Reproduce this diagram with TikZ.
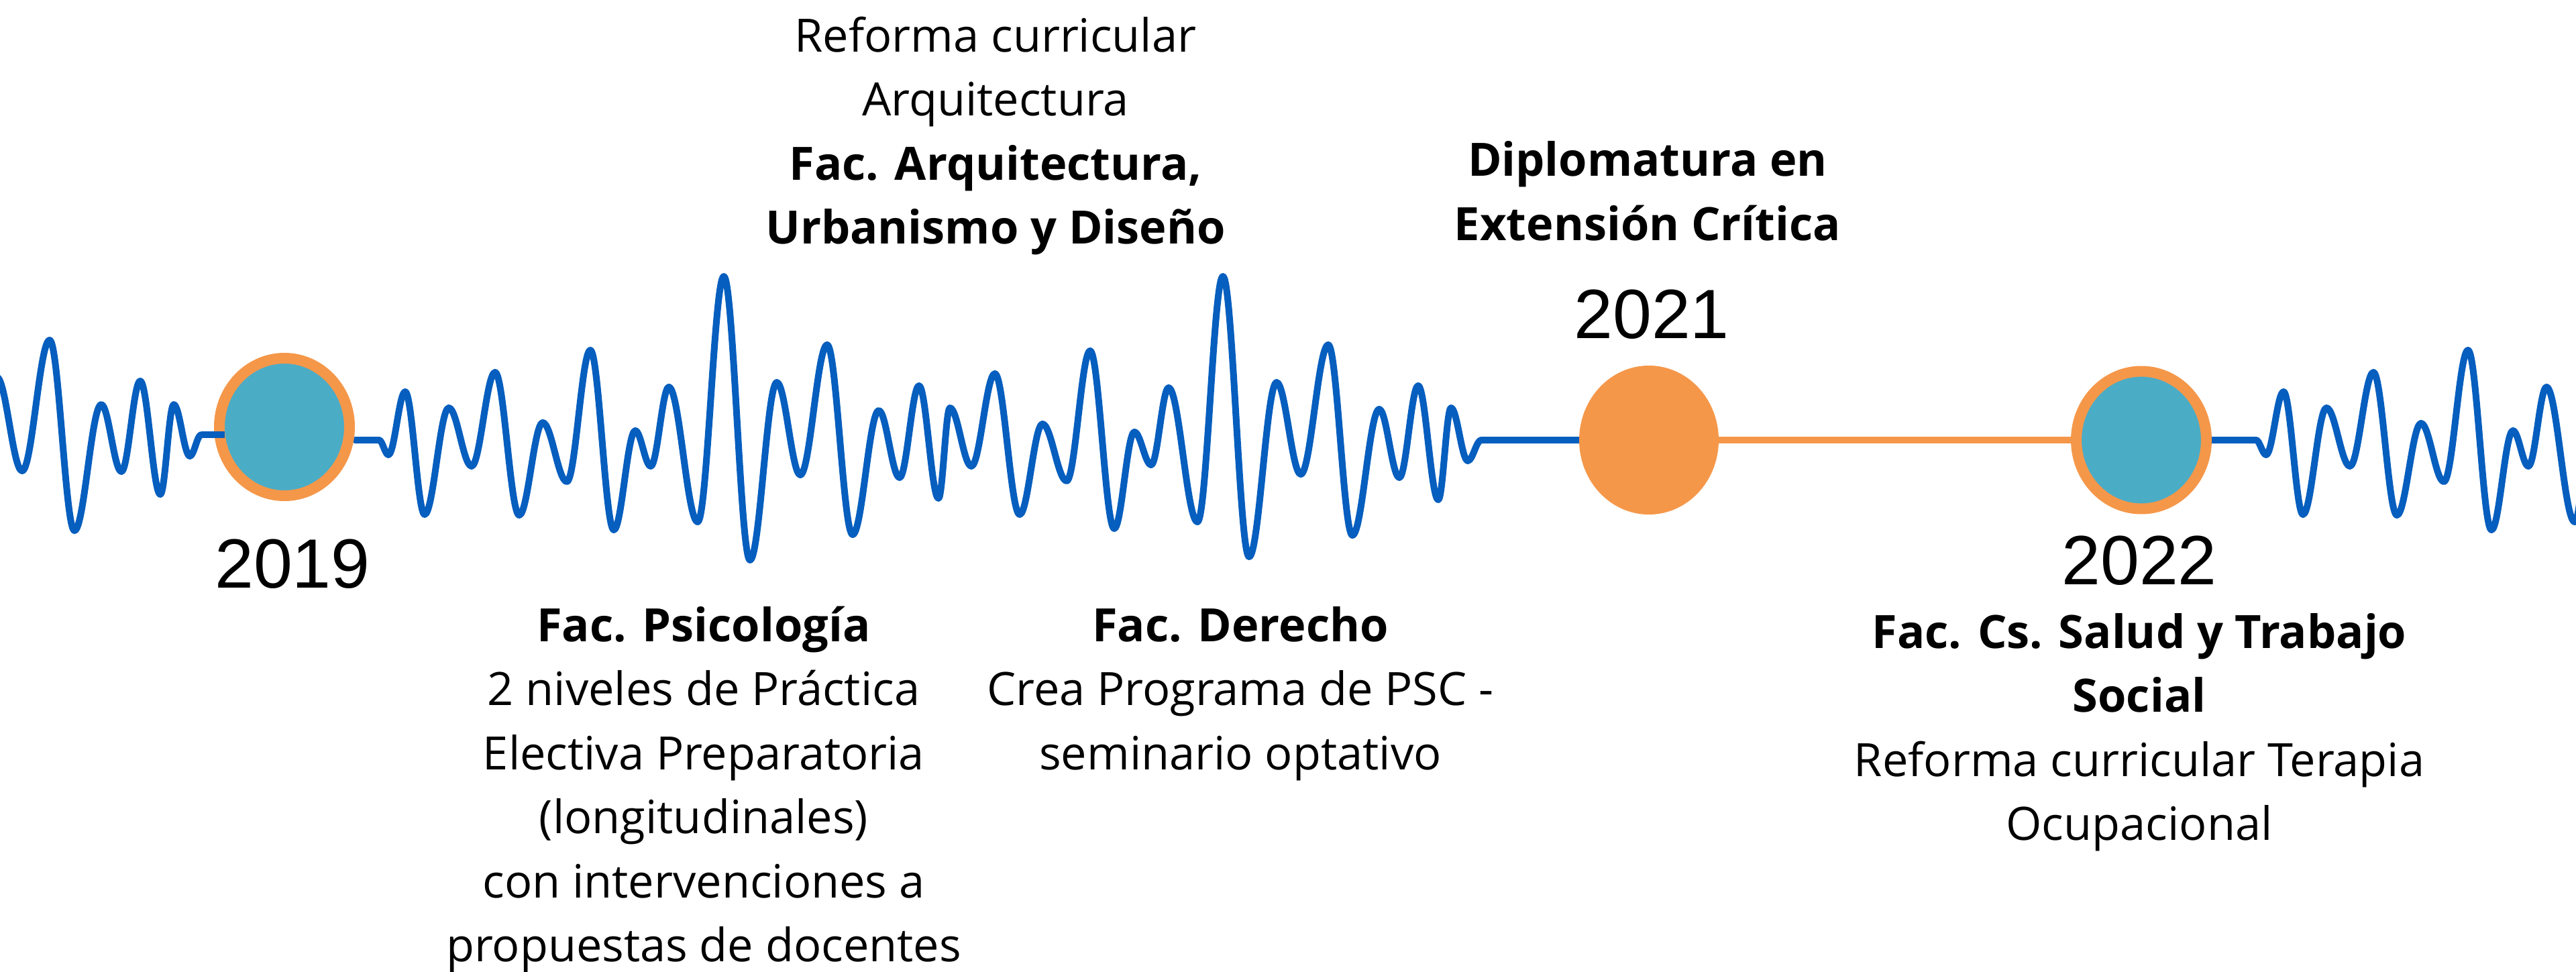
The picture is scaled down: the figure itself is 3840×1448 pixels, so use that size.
\documentclass[tikz,border=0pt]{standalone}
\usepackage{fontspec}
\setmainfont{Open Sans}
\newfontfamily\yearfont{Liberation Sans}
\usetikzlibrary{shapes.geometric}
\definecolor{waveblue}{RGB}{6,94,190}
\definecolor{ringorange}{RGB}{245,151,73}
\definecolor{dotteal}{RGB}{75,172,198}
\pgfdeclarelayer{bg}
\pgfsetlayers{bg,main}
\begin{document}
\begin{tikzpicture}[x=1pt,y=-1pt,
  wave/.style={draw=waveblue,line width=10pt,line cap=round,line join=round},
  stub/.style={draw=waveblue,line width=10pt},
  link/.style={draw=ringorange,line width=10pt},
  ringdot/.style={ellipse,inner sep=0pt,fill=dotteal,draw=ringorange,line width=16pt,minimum width=194pt,minimum height=205pt},
  fulldot/.style={ellipse,inner sep=0pt,fill=ringorange,minimum width=208pt,minimum height=222pt},
  body/.style={font=\fontsize{68.5}{95.5}\selectfont,align=center,inner sep=0pt,anchor=base},
  year/.style={font=\yearfont\fontsize{104}{104}\selectfont,inner sep=0pt,anchor=base},
]
\useasboundingbox (0,0) rectangle (3840,1448);

% event dots
\node[ringdot] (c2019) at (424,636.5) {};
\node[fulldot] (c2021) at (2458,656) {};
\node[ringdot] (c2022) at (3192,656) {};

% free ends of the flat parts of the wave
\coordinate (a1) at (300,648);
\coordinate (b0) at (565,656);
\coordinate (b1) at (2208,656);
\coordinate (d0) at (3363,656);

\begin{pgfonlayer}{bg}
% left wave
\draw[wave] (-5,562)
  \foreach \x/\y [remember=\x as \px (initially -5)] in
  {33/702,74/507,111/791,151/603,181/703,209/568,239/737,259/603,283/680,300/648}
  { .. controls +({0.364*(\x-\px)},0) and +({-0.364*(\x-\px)},0) .. (\x,\y) };
% middle wave
\draw[wave] (c2019.east |- b0) -- (b0)
  \foreach \x/\y [remember=\x as \px (initially 565)] in
  {579/678,604/584,633/767,669/608,703/695,738/555,774/768,809/630,845/718,
   880/522,915/790,947/642,970/695,997/577,1040/778,1079/412,1118/835,1158/570,
   1193/708,1233/514,1271/797,1310/612,1341/712,1370/575,1399/743,1416/608,
   1448/695,1483/557,1520/767,1554/632,1590/717,1625/523,1661/788,1691/644,
   1716/693,1742/578,1785/778,1823/412,1862/830,1903/570,1939/707,1980/514,
   2016/798,2056/610,2086/712,2114/575,2144/745,2163/608,2188/687,2208/656}
  { .. controls +({0.364*(\x-\px)},0) and +({-0.364*(\x-\px)},0) .. (\x,\y) }
  -- (c2021.west |- b1);
% right wave
\draw[wave] (c2022.east |- d0) -- (d0)
  \foreach \x/\y [remember=\x as \px (initially 3363)] in
  {3378/678,3404/584,3433/767,3468/608,3503/695,3538/555,3573/768,3609/631,
   3643/718,3679/522,3714/790,3746/642,3769/695,3796/577,3838/778,3878/412}
  { .. controls +({0.364*(\x-\px)},0) and +({-0.364*(\x-\px)},0) .. (\x,\y) };
% orange link
\draw[link] (c2021) -- (c2022);
\end{pgfonlayer}

% blue stub over the left side of the first ring
\draw[stub] (a1) -- ([xshift=16pt]c2019.west |- a1);

% years
\node[year] (y2019) at (436,876) {2019};
\node[year] (y2021) at (2462,504) {2021};
\node[year] (y2022) at (3189,871) {2022};

% texts (anchor = baseline of the last line)
\node[body] (tarq) at (1484,363.5) {Reforma curricular\\Arquitectura\\\textbf{Fac. Arquitectura,}\\\textbf{Urbanismo y Diseño}};
\node[body] (tdip) at (2456,358) {\textbf{Diplomatura en}\\\textbf{Extensión Crítica}};
\node[body] (tpsi) at (1049,1433.5) {\textbf{Fac. Psicología}\\2 niveles de Práctica\\Electiva Preparatoria\\(longitudinales)\\con intervenciones a\\propuestas de docentes};
\node[body] (tder) at (1849,1147) {\textbf{Fac. Derecho}\\Crea Programa de PSC -\\seminario optativo};
\node[body] (tsal) at (3189,1252.5) {\textbf{Fac. Cs. Salud y Trabajo}\\\textbf{Social}\\Reforma curricular Terapia\\Ocupacional};
\end{tikzpicture}
\end{document}
